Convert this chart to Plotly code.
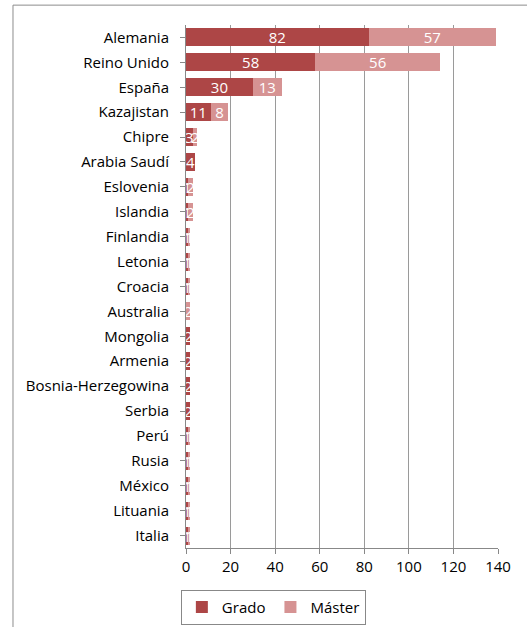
import plotly.graph_objects as go

paises = [
    "Alemania", "Reino Unido", "España", "Kazajistan", "Chipre", "Arabia Saudí",
    "Eslovenia", "Islandia", "Finlandia", "Letonia", "Croacia", "Australia",
    "Mongolia", "Armenia", "Bosnia-Herzegowina", "Serbia", "Perú", "Rusia",
    "México", "Lituania", "Italia",
]
grado = [82, 58, 30, 11, 3, 4, 1, 1, 1, 1, 1, 0, 2, 2, 2, 2, 1, 1, 1, 1, 1]
master = [57, 56, 13, 8, 2, 0, 2, 2, 1, 1, 1, 2, 0, 0, 0, 0, 1, 1, 1, 1, 1]

FONT = "'Open Sans', sans-serif"


def etiquetas(vals):
    return [str(v) if v > 0 else "" for v in vals]


fig = go.Figure()
fig.add_trace(
    go.Bar(
        y=paises, x=grado, name="Grado", orientation="h",
        marker=dict(color="#AD4646", line=dict(width=0)),
        text=etiquetas(grado), textposition="inside", insidetextanchor="middle",
        textangle=0, textfont=dict(color="white", size=15, family=FONT),
        hoverinfo="x+y+name",
    )
)
fig.add_trace(
    go.Bar(
        y=paises, x=master, name="Máster", orientation="h",
        marker=dict(color="#D69393", line=dict(width=0)),
        text=etiquetas(master), textposition="inside", insidetextanchor="middle",
        textangle=0, textfont=dict(color="white", size=15, family=FONT),
        hoverinfo="x+y+name",
    )
)

fig.update_layout(
    barmode="stack",
    bargap=0.28,
    width=527,
    height=627,
    margin=dict(l=186, r=29, t=25, b=79, autoexpand=False),
    paper_bgcolor="white",
    plot_bgcolor="white",
    font=dict(family=FONT, size=15, color="black"),
    uniformtext=dict(mode="show", minsize=14),
    legend=dict(
        orientation="h", x=0.28, xanchor="center", y=-0.08, yanchor="top",
        bordercolor="#888888", borderwidth=1, font=dict(size=15),
        traceorder="normal", itemwidth=30,
    ),
)
fig.update_xaxes(
    range=[0, 140], dtick=20, showgrid=True, gridcolor="#9a9a9a", gridwidth=1,
    showline=True, linecolor="#888888", ticks="outside", ticklen=5,
    tickcolor="#888888", zeroline=False, tickfont=dict(size=15),
)
fig.update_yaxes(
    autorange="reversed", showline=True, linecolor="#888888", ticks="outside",
    ticklen=5, tickcolor="#888888", showgrid=False, ticklabelstandoff=8,
    automargin=False,
)
# outer chart frame, cut off on the right and bottom like the original
fig.add_shape(
    type="rect", xref="paper", yref="paper",
    x0=-0.5545, x1=1.3, y0=-0.3, y1=1.038,
    line=dict(color="#8c8c8c", width=1), fillcolor="rgba(0,0,0,0)", layer="below",
)

# drop the default 8px body margin so the frame top edge is on the page
fig.write_html(
    "out.html",
    config={"displayModeBar": False},
    post_script="document.body.style.margin='0';",
)
